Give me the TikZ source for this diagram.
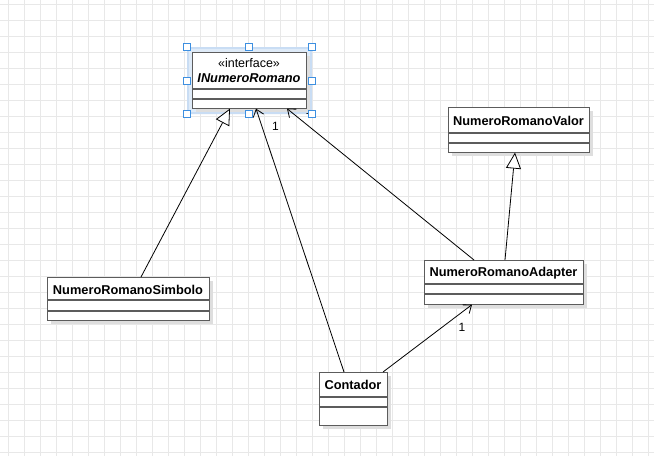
\documentclass[tikz,border=0pt]{standalone}
\usepackage{fontspec}
\setmainfont{Liberation Sans}
\usetikzlibrary{arrows.meta,calc,shadows}
\definecolor{gridline}{HTML}{E8E8E8}
\definecolor{boxline}{HTML}{5C5C5C}
\definecolor{selblue}{HTML}{3D8FE0}
\definecolor{glow}{HTML}{C9DDF4}
\tikzset{
  classbox/.style={draw=boxline, line width=1.3pt, fill=white, rectangle,
    inner sep=0pt, anchor=north west,
    drop shadow={shadow xshift=3pt, shadow yshift=-3pt, fill=black!13, opacity=1}},
  sepline/.style={draw=boxline, line width=1.3pt},
  cname/.style={font=\bfseries\fontsize{12.8}{14}\selectfont, inner sep=0pt},
  inherit/.style={draw=black, line width=0.8pt,
    -{Triangle[open, length=16pt, width=15pt, fill=white]}},
  assoc/.style={draw=black, line width=0.8pt,
    -{Straight Barb[length=7pt, width=11pt, line width=0.8pt]}},
  mult/.style={font=\fontsize{12}{14}\selectfont, inner sep=0pt},
  handle/.style={draw=selblue, fill=white, line width=0.7pt, minimum size=7pt,
    inner sep=0pt, rectangle},
}
\begin{document}
\begin{tikzpicture}[x=1pt,y=-1pt]
\useasboundingbox (0,0) rectangle (654,456);
% background grid
\fill[white] (0,0) rectangle (654,456);
\foreach \gx in {8,24,...,654} \draw[gridline, line width=0.8pt] (\gx,0) -- (\gx,456);
\foreach \gy in {4,20,...,456} \draw[gridline, line width=0.8pt] (0,\gy) -- (654,\gy);

% selection glow around the interface
\fill[glow, rounded corners=2pt] (187,47) rectangle (312,114);
\fill[glow!60!white] (189,49) rectangle (310,112);

% multiplicity tucked under the interface box and its handle
\node[mult] (m2) at (309,110) {1};

% class boxes
\node[classbox, minimum width=114pt, minimum height=56pt] (inr) at (192,52) {};
\node[classbox, minimum width=141pt, minimum height=45pt] (val) at (448,107) {};
\node[classbox, minimum width=159pt, minimum height=44pt] (ada) at (424,260) {};
\node[classbox, minimum width=162pt, minimum height=43pt] (sim) at (47,277) {};
\node[classbox, minimum width=68pt, minimum height=53pt] (con) at (319,372) {};

% compartment separators
\draw[sepline] (192,89) -- (306,89) (192,99) -- (306,99);
\draw[sepline] (448,133) -- (589,133) (448,143) -- (589,143);
\draw[sepline] (424,284) -- (583,284) (424,294) -- (583,294);
\draw[sepline] (47,300) -- (209,300) (47,311) -- (209,311);
\draw[sepline] (319,397) -- (387,397) (319,407) -- (387,407);

% class names
\node[font=\fontsize{12.5}{14}\selectfont, inner sep=0pt] (inrst) at (249,63) {«interface»};
\node[font=\bfseries\itshape\fontsize{12.8}{14}\selectfont, inner sep=0pt] (inrname) at (249,78) {INumeroRomano};
\node[cname] (valname) at (518.5,121) {NumeroRomanoValor};
\node[cname] (adaname) at (503.5,273) {NumeroRomanoAdapter};
\node[cname] (simname) at (128,289.5) {NumeroRomanoSimbolo};
\node[cname] (conname) at (353,384.5) {Contador};

% connector end points on the boxes
\coordinate (simtop) at (141,277);
\coordinate (inrgen) at (230,108.6);
\coordinate (contop1) at (344,372);
\coordinate (inrcon) at (256,108.6);
\coordinate (adatop1) at (474,260);
\coordinate (inrada) at (287,108.6);
\coordinate (adatop2) at (505,260);
\coordinate (valbot) at (515,152.6);
\coordinate (contop2) at (383,372);
\coordinate (adabot) at (472,304.6);

% generalisations
\draw[inherit] (simtop) -- (inrgen);
\draw[inherit] (adatop2) -- (valbot);

% associations
\draw[assoc] (contop1) -- (inrcon);
\draw[assoc] (adatop1) -- (inrada);
\draw[assoc] (contop2) -- (adabot);

% multiplicities
\node[mult] (m1) at (275.5,126) {1};
\node[mult] (m3) at (462,327) {1};

% selection handles
\foreach \hx/\hy in {187/47,249/47,312/47,187/81,312/81,187/114,249/114,312/114}
  \node[handle] at (\hx,\hy) {};
\end{tikzpicture}
\end{document}
